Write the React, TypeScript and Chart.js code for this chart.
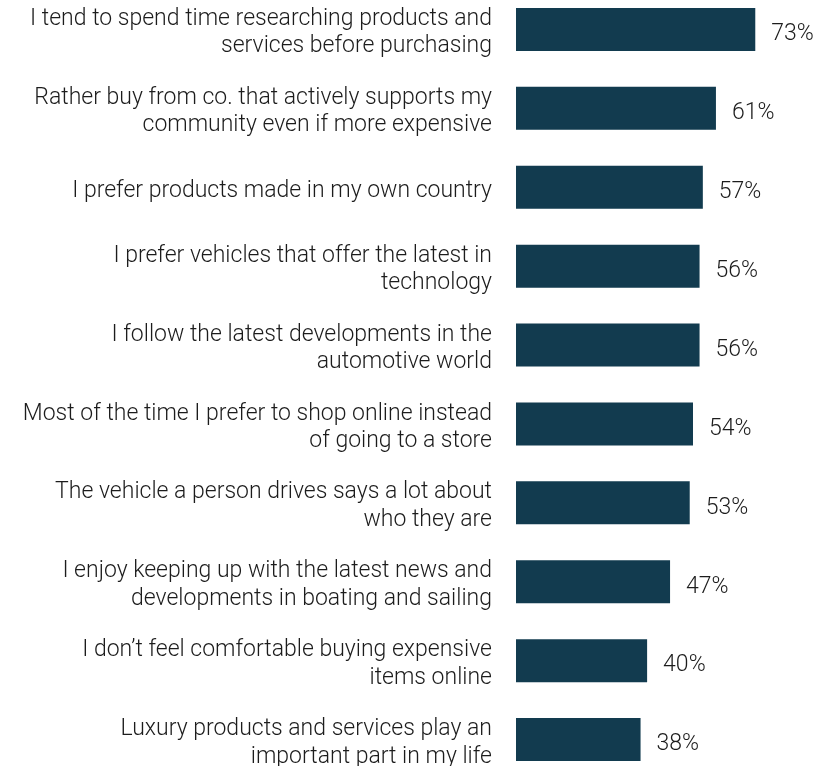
import React, { useEffect, useRef } from "react";
import { Chart, registerables } from "chart.js";

Chart.register(...registerables);

const categories: string[][] = [
  ["I tend to spend time researching products and", "services before purchasing"],
  ["Rather buy from co. that actively supports my", "community even if more expensive"],
  ["I prefer products made in my own country"],
  ["I prefer vehicles that offer the latest in", "technology"],
  ["I follow the latest developments in the", "automotive world"],
  ["Most of the time I prefer to shop online instead", "of going to a store"],
  ["The vehicle a person drives says a lot about", "who they are"],
  ["I enjoy keeping up with the latest news and", "developments in boating and sailing"],
  ["I don\u2019t feel comfortable buying expensive", "items online"],
  ["Luxury products and services play an", "important part in my life"],
];

const values: number[] = [73, 61, 57, 56, 56, 54, 53, 47, 40, 38];

const FONT = "Roboto";
const FONT_SIZE = 23;
const LINE_H = 27.4;
const TEXT_COLOR = "#1c1c1c";

const textLabels = {
  id: "textLabels",
  afterDatasetsDraw(chart: any) {
    const ctx = chart.ctx;
    const meta = chart.getDatasetMeta(0);
    const yScale = chart.scales.y;
    ctx.save();
    ctx.font = `300 ${FONT_SIZE}px ${FONT}`;
    ctx.fillStyle = TEXT_COLOR;
    ctx.textBaseline = "middle";
    // category labels
    ctx.textAlign = "right";
    categories.forEach((lines, i) => {
      const cy = yScale.getPixelForValue(i) + 3.5;
      const n = lines.length;
      lines.forEach((line, j) => {
        const y = cy + (j - (n - 1) / 2) * LINE_H;
        ctx.fillText(line, 492, y);
      });
    });
    // value labels
    ctx.textAlign = "left";
    meta.data.forEach((bar: any, i: number) => {
      ctx.fillText(`${values[i]}%`, bar.x + 16, bar.y + 5);
    });
    ctx.restore();
  },
};

export default function App() {
  const ref = useRef<HTMLCanvasElement | null>(null);
  useEffect(() => {
    document.body.style.margin = "0";
    const chart = new Chart(ref.current!, {
      type: "bar",
      data: {
        labels: categories.map((l) => l.join(" ")),
        datasets: [
          {
            data: values,
            backgroundColor: "#123B4F",
            barPercentage: 0.545,
            categoryPercentage: 1,
          },
        ],
      },
      options: {
        indexAxis: "y",
        animation: false,
        responsive: false,
        layout: { padding: { top: 0, bottom: 0, left: 516, right: 9 } },
        plugins: { legend: { display: false }, tooltip: { enabled: false } },
        scales: {
          x: { display: false, min: 0, max: 90 },
          y: { display: false },
        },
      },
      plugins: [textLabels],
    });
    return () => chart.destroy();
  }, []);
  return (
    <div style={{ position: "absolute", left: 0, top: -10, width: 820, height: 789 }}>
      <canvas ref={ref} width={820} height={789} style={{ width: 820, height: 789 }} />
    </div>
  );
}
